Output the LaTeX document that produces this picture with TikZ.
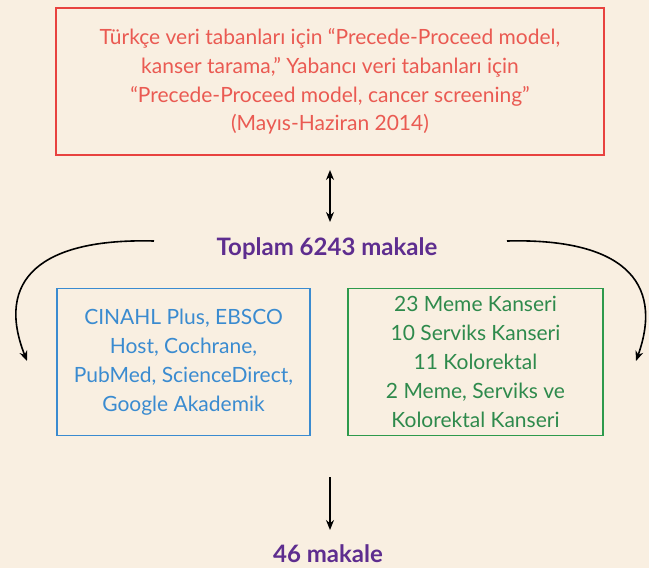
\documentclass[tikz,border=0pt]{standalone}
\usepackage{fontspec}
\setmainfont{Lato}
\usetikzlibrary{arrows.meta}
\definecolor{bg}{HTML}{F9EFE1}
\definecolor{redc}{HTML}{E8423F}
\definecolor{redt}{HTML}{EA5A52}
\definecolor{bluec}{HTML}{3A8BD0}
\definecolor{greenc}{HTML}{2E9A4C}
\definecolor{greent}{HTML}{2E8A4C}
\definecolor{purp}{HTML}{5E2D8F}
\tikzset{
  box/.style={draw, line width=1.6pt, minimum width=#1, align=center, inner sep=0pt},
  txt/.style={font=\fontsize{21}{28.8}\selectfont},
  head/.style={font=\fontsize{24}{28}\selectfont\bfseries, text=purp},
  arr/.style={line width=1.6pt, -{Stealth[length=10pt,width=8pt]}},
  darr/.style={line width=1.6pt, {Stealth[length=10pt,width=8pt]}-{Stealth[length=10pt,width=8pt]}},
}
\begin{document}
\begin{tikzpicture}[x=1pt,y=-1pt]
\fill[bg] (0,0) rectangle (649,568);
\useasboundingbox (0,0) rectangle (649,568);
\node[box=548pt, draw=redc, text=redt, txt, minimum height=147pt] (top) at (330,81.5)
  {Türkçe veri tabanları için “Precede-Proceed model,\\ kanser tarama,” Yabancı veri tabanları için\\ “Precede-Proceed model, cancer screening”\\ (Mayıs-Haziran 2014)};
\node[head] (tot) at (327,249) {Toplam 6243 makale};
\node[box=253pt, draw=bluec, text=bluec, txt, minimum height=147pt] (db) at (183.5,362)
  {CINAHL Plus, EBSCO\\ Host, Cochrane,\\ PubMed, ScienceDirect,\\ Google Akademik};
\node[box=255pt, draw=greenc, text=greent, txt, minimum height=147pt] (res) at (475.5,362)
  {23 Meme Kanseri\\ 10 Serviks Kanseri\\ 11 Kolorektal\\ 2 Meme, Serviks ve\\ Kolorektal Kanseri};
\node[head] (fin) at (328,554) {46 makale};
\coordinate (a1) at (330,170);
\coordinate (a2) at (330,222);
\draw[darr] (a1) -- (a2);
\coordinate (l0) at (154,241);
\coordinate (l1) at (27,361);
\draw[arr] (l0) .. controls (40,238) and (-5,280) .. (l1);
\coordinate (r0) at (507,241);
\coordinate (r1) at (636,361);
\draw[arr] (r0) .. controls (620,238) and (665,280) .. (r1);
\coordinate (d1) at (330,477);
\coordinate (d2) at (330,530);
\draw[arr] (d1) -- (d2);
\end{tikzpicture}
\end{document}
